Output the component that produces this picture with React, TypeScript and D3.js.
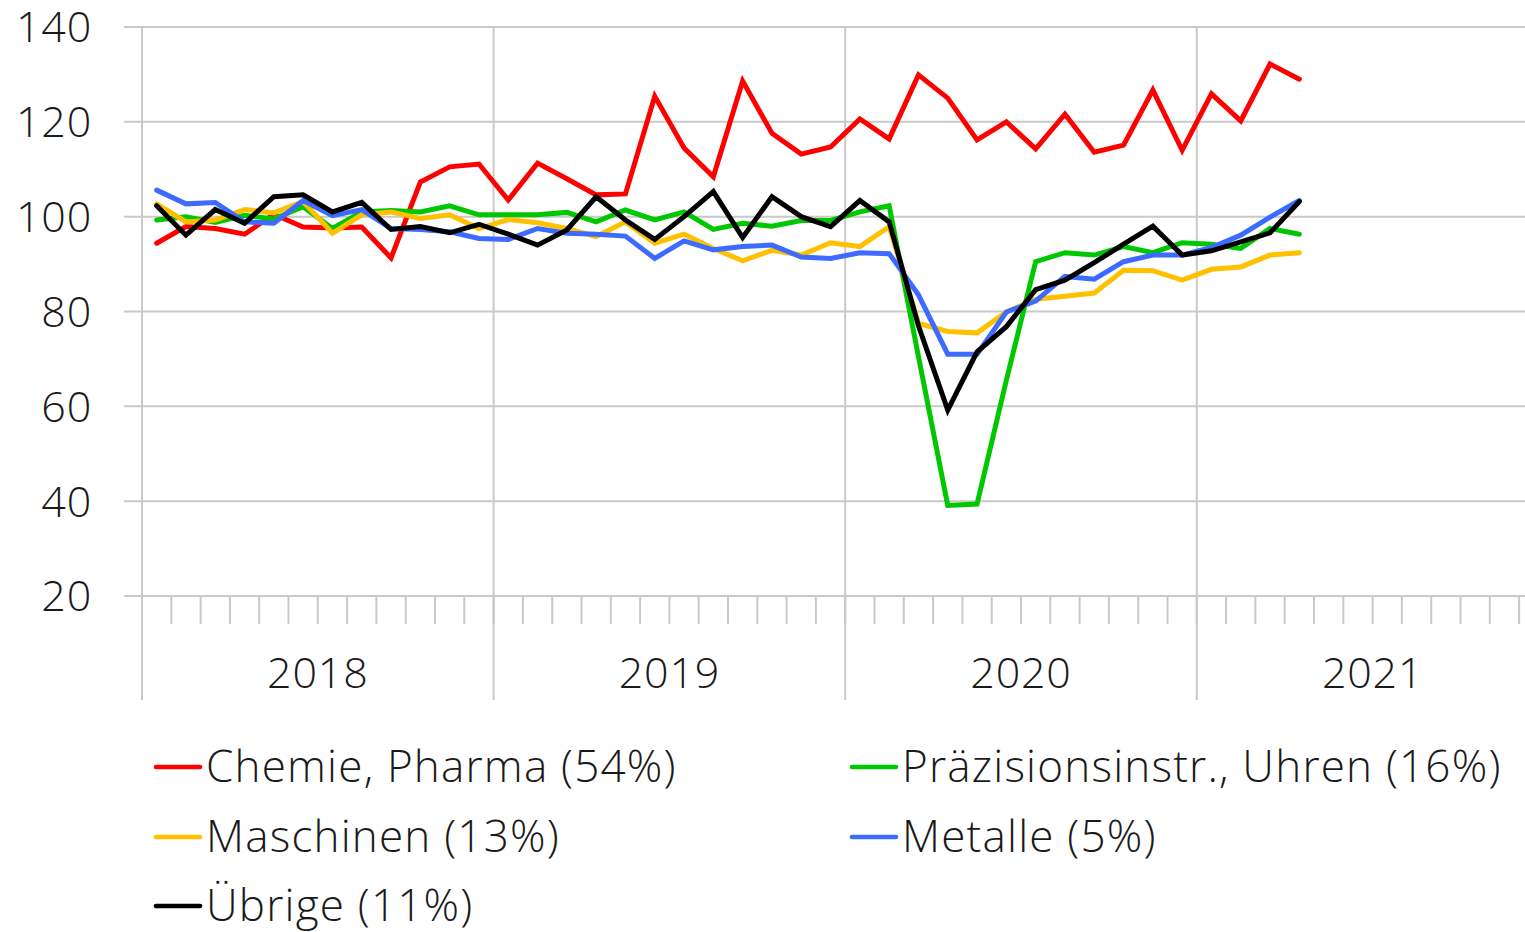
import React, { useRef, useEffect } from "react";
import { select, scaleLinear, line, range } from "d3";

// monthly index values, Jan 2018 .. Apr 2021
const chemie = [94.4, 97.9, 97.5, 96.3, 100.5, 97.8, 97.6, 97.8, 91.3, 107.3, 110.5, 111.1, 103.5, 111.3, 108, 104.6, 104.8, 125.4, 114.5, 108.4, 128.6, 117.6, 113.2, 114.7, 120.6, 116.4, 129.9, 125, 116.2, 120, 114.3, 121.6, 113.6, 115.1, 126.7, 114, 125.9, 120.2, 132.2, 129];
const praezision = [99.3, 100, 98.8, 100.3, 99.5, 102.1, 97.5, 101, 101.3, 101, 102.3, 100.4, 100.4, 100.4, 100.9, 98.9, 101.4, 99.3, 101, 97.3, 98.6, 98, 99.2, 99.2, 101, 102.3, 70.5, 39.1, 39.4, 65.5, 90.5, 92.4, 91.9, 93.7, 92.4, 94.5, 94.2, 93.3, 97.5, 96.3];
const maschinen = [102.7, 98.9, 99.3, 101.5, 100.8, 103.2, 96.5, 100.4, 101, 99.6, 100.4, 97.5, 99.4, 98.7, 97.5, 95.8, 98.9, 94.4, 96.3, 93.3, 90.7, 92.9, 91.9, 94.5, 93.7, 97.9, 77.5, 75.8, 75.5, 79.9, 82.6, 83.2, 83.9, 88.7, 88.6, 86.6, 88.9, 89.4, 91.9, 92.4];
const metalle = [105.6, 102.7, 103, 98.9, 98.6, 103.4, 100.2, 101.5, 97.5, 97.3, 96.8, 95.4, 95.2, 97.5, 96.5, 96.3, 95.9, 91.2, 94.9, 93, 93.7, 94, 91.5, 91.2, 92.4, 92.2, 83.5, 71, 71, 79.9, 82.2, 87.4, 86.8, 90.5, 91.9, 91.9, 93.5, 96.1, 99.9, 103.4];
const uebrige = [102.3, 96.1, 101.5, 98.6, 104.2, 104.6, 101, 103, 97.3, 97.9, 96.6, 98.4, 96.3, 94, 97.2, 104.2, 99.3, 95.2, 100, 105.3, 95.6, 104.2, 100, 97.9, 103.4, 98.9, 77, 59.2, 71.5, 76.8, 84.6, 86.6, 90.3, 94.2, 98, 91.9, 92.8, 94.7, 96.6, 103.2];

const years = ["2018", "2019", "2020", "2021"];
const yTicks = [20, 40, 60, 80, 100, 120, 140];

const seriesNames = [
  "Chemie, Pharma (54%)",
  "Präzisionsinstr., Uhren (16%)",
  "Maschinen (13%)",
  "Metalle (5%)",
  "Übrige (11%)",
];
const seriesColors = ["#ff0000", "#00c800", "#ffc000", "#3d6bff", "#000000"];
const seriesData = [chemie, praezision, maschinen, metalle, uebrige];

const WIDTH = 1525;
const HEIGHT = 932;
const FONT = "'Open Sans', sans-serif";

function LineChart() {
  const svgRef = useRef<SVGSVGElement>(null);

  useEffect(() => {
    const svg = select(svgRef.current);
    svg.selectAll("*").remove();

    const left = 142;
    const monthW = 29.3;
    const months = years.length * 12;
    const top = 27;
    const bottom = 596;

    // scales
    const xScale = scaleLinear().domain([0, months]).range([left, left + months * monthW]);
    const yScale = scaleLinear().domain([20, 140]).range([bottom, top]);

    const grid = svg.append("g").attr("stroke", "#c9c9c9").attr("stroke-width", 2);

    // horizontal gridlines
    grid
      .selectAll(".hgrid")
      .data(yTicks)
      .join("line")
      .attr("x1", 124)
      .attr("x2", WIDTH)
      .attr("y1", (d) => yScale(d))
      .attr("y2", (d) => yScale(d));

    // year separators, running down through the axis labels
    grid
      .selectAll(".ygrid")
      .data(range(years.length + 1))
      .join("line")
      .attr("x1", (d) => xScale(d * 12))
      .attr("x2", (d) => xScale(d * 12))
      .attr("y1", top)
      .attr("y2", 700);

    // month ticks
    grid
      .selectAll(".mtick")
      .data(range(months + 1))
      .join("line")
      .attr("x1", (d) => xScale(d))
      .attr("x2", (d) => xScale(d))
      .attr("y1", bottom)
      .attr("y2", 624);

    // y labels
    svg
      .append("g")
      .selectAll("text")
      .data(yTicks)
      .join("text")
      .attr("x", 92)
      .attr("y", (d) => yScale(d))
      .attr("dy", "0.36em")
      .attr("text-anchor", "end")
      .attr("font-family", FONT)
      .attr("font-size", 43)
      .attr("font-weight", 350)
      .attr("letter-spacing", 0.8)
      .attr("fill", "#1a1a1a")
      .text((d) => d);

    // year labels
    svg
      .append("g")
      .selectAll("text")
      .data(years)
      .join("text")
      .attr("x", (d, i) => xScale(i * 12 + 6))
      .attr("y", 688)
      .attr("text-anchor", "middle")
      .attr("font-family", FONT)
      .attr("font-size", 43)
      .attr("font-weight", 350)
      .attr("letter-spacing", 0.8)
      .attr("fill", "#1a1a1a")
      .text((d) => d);

    // series lines
    const lineGen = line<number>()
      .x((d, i) => xScale(i + 0.5))
      .y((d) => yScale(d));

    svg
      .append("g")
      .selectAll("path")
      .data(seriesData)
      .join("path")
      .attr("d", (d) => lineGen(d))
      .attr("fill", "none")
      .attr("stroke", (d, i) => seriesColors[i])
      .attr("stroke-width", 5)
      .attr("stroke-linejoin", "miter")
      .attr("stroke-linecap", "round");

    // legend
    const legendPos = [
      [156, 767],
      [852, 767],
      [156, 837],
      [852, 837],
      [156, 906],
    ];
    const legend = svg
      .append("g")
      .selectAll("g")
      .data(seriesNames)
      .join("g")
      .attr("transform", (d, i) => `translate(${legendPos[i][0]} ${legendPos[i][1]})`);

    legend
      .append("line")
      .attr("x1", 0)
      .attr("x2", 44)
      .attr("stroke", (d, i) => seriesColors[i])
      .attr("stroke-width", 4.6)
      .attr("stroke-linecap", "round");

    legend
      .append("text")
      .attr("x", 50)
      .attr("y", 15)
      .attr("font-family", FONT)
      .attr("font-size", 44)
      .attr("font-weight", 350)
      .attr("letter-spacing", 1.2)
      .attr("fill", "#1a1a1a")
      .text((d) => d);
  }, []);

  return (
    <svg
      ref={svgRef}
      width={WIDTH}
      height={HEIGHT}
      style={{ position: "absolute", left: 0, top: 0, background: "#fff" }}
    />
  );
}

export default function App() {
  return <LineChart />;
}
